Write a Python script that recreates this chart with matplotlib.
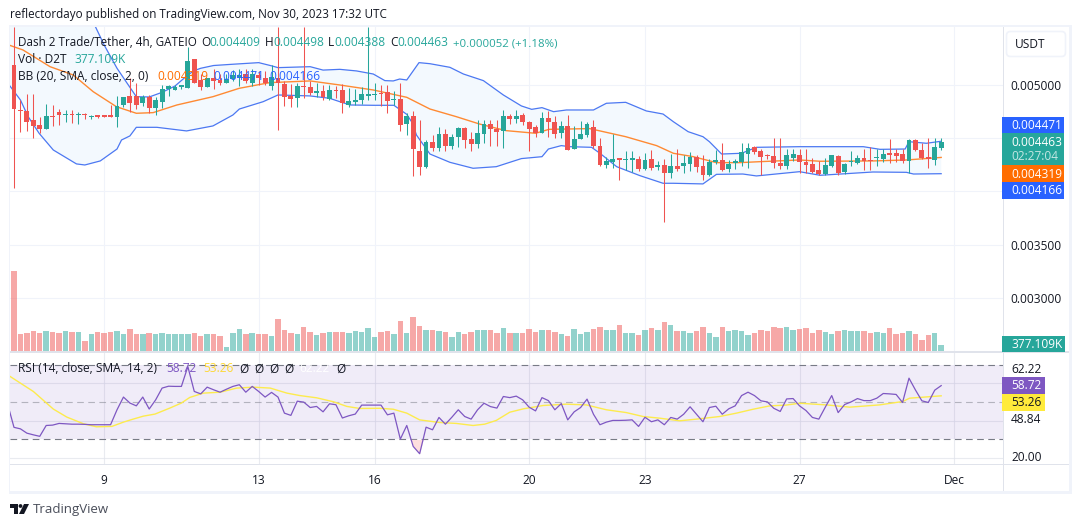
import matplotlib
matplotlib.use('Agg')
import matplotlib.pyplot as plt
from matplotlib.patches import Rectangle, Polygon, Circle, FancyBboxPatch
import numpy as np

plt.rcParams['font.family'] = ['Open Sans', 'DejaVu Sans']

# prices are in millionths of USDT, volume in thousands
opens = [5188, 4765, 4756, 4671, 4624, 4586, 4706, 4746, 4715, 4720,
         4714, 4720, 4700, 4706, 4706, 4706, 4699, 4809, 4893, 4893,
         4834, 4887, 4784, 4840, 4962, 4953, 4984, 4972, 5244, 5047,
         4978, 5063, 5047, 5022, 5053, 5072, 5103, 5022, 5094, 5066,
         4991, 5063, 5010, 4897, 4875, 4985, 4978, 4928, 4941, 4865,
         4953, 4953, 4812, 4843, 4859, 4900, 4903, 4928, 4931, 4859,
         4868, 4637, 4709, 4380, 4229, 4464, 4408, 4540, 4427, 4511,
         4596, 4492, 4449, 4540, 4633, 4586, 4571, 4709, 4680, 4715,
         4652, 4605, 4552, 4690, 4652, 4552, 4615, 4401, 4492, 4533,
         4605, 4427, 4248, 4276, 4304, 4292, 4298, 4304, 4210, 4304,
         4232, 4248, 4173, 4235, 4242, 4254, 4320, 4239, 4154, 4276,
         4295, 4207, 4264, 4279, 4348, 4414, 4380, 4336, 4333, 4264,
         4242, 4311, 4342, 4276, 4257, 4201, 4163, 4242, 4333, 4179,
         4273, 4270, 4311, 4292, 4311, 4308, 4348, 4358, 4351, 4286,
         4483, 4389, 4311, 4295, 4409]
closes = [4778, 4755, 4655, 4615, 4586, 4709, 4700, 4721, 4720, 4714,
          4720, 4716, 4706, 4702, 4702, 4702, 4803, 4887, 4831, 4809,
          4890, 4781, 4859, 4962, 4994, 4984, 4994, 5226, 5016, 4978,
          5063, 5038, 5022, 5053, 5091, 5091, 5038, 5103, 5063, 5016,
          5072, 5022, 4890, 4868, 4991, 4980, 4928, 4941, 4890, 4953,
          4941, 4834, 4850, 4859, 4915, 4915, 4915, 4915, 4850, 4868,
          4624, 4709, 4398, 4229, 4464, 4408, 4540, 4427, 4511, 4599,
          4483, 4445, 4549, 4633, 4586, 4561, 4709, 4684, 4709, 4655,
          4586, 4546, 4690, 4652, 4543, 4615, 4392, 4492, 4540, 4633,
          4427, 4248, 4286, 4304, 4298, 4298, 4304, 4210, 4295, 4223,
          4248, 4176, 4235, 4210, 4264, 4320, 4232, 4154, 4279, 4292,
          4201, 4257, 4286, 4373, 4405, 4373, 4326, 4330, 4270, 4242,
          4342, 4351, 4279, 4251, 4185, 4163, 4248, 4342, 4176, 4257,
          4276, 4311, 4286, 4286, 4314, 4351, 4344, 4336, 4286, 4483,
          4389, 4311, 4308, 4414, 4463]
highs = [5548, 4859, 4915, 4915, 4702, 4821, 4812, 4774, 4765, 4765,
         4750, 4740, 4718, 4718, 4712, 4812, 4898, 4890, 5070, 5016,
         4905, 4905, 4890, 5000, 5000, 5000, 5003, 5357, 5244, 5100,
         5063, 5150, 5100, 5100, 5140, 5150, 5150, 5150, 5130, 5135,
         5190, 5548, 5040, 5010, 5016, 5548, 5040, 5016, 5000, 5000,
         4995, 5007, 4975, 4965, 4985, 5548, 5020, 5000, 4997, 4940,
         5020, 4737, 4755, 4670, 4480, 4530, 4605, 4585, 4535, 4605,
         4605, 4555, 4670, 4670, 4670, 4670, 4765, 4730, 4765, 4740,
         4660, 4620, 4745, 4760, 4710, 4660, 4718, 4612, 4665, 4650,
         4670, 4500, 4320, 4542, 4312, 4380, 4380, 4330, 4360, 4390,
         4285, 4305, 4350, 4400, 4340, 4370, 4340, 4340, 4300, 4389,
         4458, 4295, 4300, 4458, 4458, 4430, 4400, 4355, 4500, 4500,
         4395, 4395, 4395, 4395, 4310, 4290, 4310, 4345, 4345, 4265,
         4378, 4345, 4395, 4420, 4395, 4395, 4490, 4395, 4395, 4490,
         4490, 4450, 4500, 4500, 4498]
lows = [4029, 4561, 4568, 4505, 4546, 4586, 4615, 4627, 4655, 4640,
        4634, 4684, 4677, 4693, 4696, 4700, 4601, 4797, 4750, 4778,
        4800, 4740, 4722, 4787, 4900, 4953, 4962, 4972, 5016, 4953,
        4978, 4962, 5000, 5022, 5040, 4990, 5016, 4990, 5000, 5000,
        4950, 4577, 4800, 4795, 4795, 4875, 4905, 4890, 4860, 4858,
        4880, 4737, 4797, 4812, 4822, 4862, 4860, 4798, 4740, 4810,
        4570, 4533, 4145, 4155, 4220, 4380, 4380, 4380, 4400, 4418,
        4410, 4380, 4405, 4455, 4430, 4430, 4408, 4633, 4640, 4620,
        4380, 4515, 4545, 4510, 4505, 4505, 4392, 4401, 4492, 4515,
        4405, 4240, 4215, 4222, 4108, 4200, 4180, 4190, 4200, 4205,
        4200, 3712, 4130, 4190, 4170, 4190, 4180, 4110, 4140, 4260,
        4192, 4180, 4210, 4240, 4223, 4355, 4150, 4300, 4215, 4210,
        4210, 4290, 4175, 4175, 4170, 4150, 4150, 4225, 4155, 4160,
        4240, 4255, 4200, 4200, 4240, 4280, 4270, 4280, 4270, 4170,
        4380, 4300, 4220, 4250, 4388]
volumes = [4374, 972, 1026, 1134, 1026, 1134, 1080, 1026, 1134, 1080,
           1080, 594, 972, 1080, 1026, 1080, 1134, 972, 1242, 972,
           972, 1026, 972, 1026, 972, 972, 972, 972, 1026, 864,
           972, 972, 864, 270, 1026, 1242, 972, 1026, 972, 972,
           864, 1782, 1188, 1026, 972, 1350, 1080, 918, 1026, 1080,
           1080, 1080, 1026, 1134, 1098, 1314, 828, 1098, 1152, 990,
           1692, 1044, 1908, 1422, 1206, 1206, 1152, 1098, 828, 1098,
           990, 1098, 1206, 1206, 1206, 1044, 1314, 1044, 1044, 1044,
           1260, 1098, 1206, 1206, 1098, 990, 882, 1260, 990, 1098,
           1260, 1368, 1206, 1206, 1476, 1044, 1044, 936, 1206, 1314,
           1206, 1638, 1476, 1152, 1152, 1044, 1152, 1368, 1044, 828,
           1368, 1152, 1206, 1152, 936, 1044, 1206, 1152, 1368, 1314,
           1368, 1206, 1260, 1314, 1044, 1206, 1098, 990, 1152, 1206,
           1152, 1152, 1152, 1044, 1098, 1044, 1314, 990, 1044, 1152,
           990, 666, 936, 1044, 377]

upper_idx = [-1, 6, 12, 14, 16, 18, 19, 21, 23, 25, 27, 28, 29, 31, 34, 38, 40, 41, 46, 48,
             50.6, 53.2, 55.8, 57.6, 58.9, 59.9, 61, 62.9, 64.6, 67.7, 69.8, 72.9, 76, 78.8,
             80.4, 82, 83.8, 85.8, 90, 92, 95, 98.2, 100.8, 102.4, 104.7, 107, 108, 109.9,
             113, 115.3, 122, 131.9, 134.5, 138.4, 139, 141.7, 144]
upper = [6200, 5900, 5630, 5376, 5157, 4978, 4890, 4887, 4931, 4990, 5094, 5135, 5157, 5183, 5195, 5210, 5180, 5163, 5172, 5140,
         5147, 5132, 5103, 5041, 5038, 5056, 5047, 5210, 5200, 5166, 5103, 5041, 4906, 4803,
         4771, 4787, 4749, 4765, 4765, 4828, 4837, 4756, 4727, 4655, 4561, 4514, 4467, 4351,
         4358, 4414, 4420, 4420, 4395, 4398, 4467, 4452, 4471]
lower_idx = [-1, 1, 2.2, 3.9, 6.1, 9.7, 11, 13.4, 16, 16.7, 18, 19, 22.2, 26.8, 30.9, 34, 35, 38.7, 41, 46, 49,
             50.6, 52.2, 55.8, 59, 61, 61.9, 62.5, 64.6, 67.7, 71.3, 74.9, 78.8, 82, 83, 85, 86.3, 89.7, 91, 93.6, 97.2,
             100.8, 102.4, 107, 109.1, 113.2, 115.3, 122, 125.2, 133.4, 138.6, 139.7, 144]
lower = [5020, 4859, 4702, 4546, 4389, 4258, 4248, 4286, 4398, 4483, 4521, 4602, 4602, 4568, 4615, 4718, 4774, 4843, 4906, 4897, 4875,
         4843, 4812, 4809, 4809, 4724, 4640, 4530, 4351, 4273, 4217, 4232, 4308, 4326, 4398, 4430, 4420, 4414, 4358, 4232, 4148,
         4076, 4076, 4070, 4160, 4163, 4145, 4185, 4151, 4182, 4179, 4163, 4166]
basis_idx = [-1, 1.4, 5.6, 9.2, 12.3, 15.9, 19, 21.6, 25.3, 30.9, 35, 39.7, 46, 50.6,
             55.8, 61, 64.6, 68.7, 72.3, 76.4, 81, 83.1, 89.4, 95, 99.8, 102.4, 105.5,
             109.1, 112.7, 115.8, 122, 125.2, 133.4, 138.6, 144]
basis = [5380, 5329, 5172, 5094, 4937, 4796, 4734, 4740, 4812, 4890, 4969, 5022, 5038, 5000,
         4953, 4884, 4774, 4702, 4633, 4571, 4546, 4583, 4590, 4514, 4430, 4358, 4326,
         4270, 4270, 4279, 4295, 4283, 4286, 4295, 4319]

# rsi starts one bar before the first visible candle
rsi = [49.0, 36.4, 35.6, 33.3, 32.4, 31.6, 37.4, 37.6, 38.5, 38.3, 38.1,
       38.1, 38.0, 37.8, 37.8, 37.8, 37.8, 45.8, 52.6, 49.4, 47.9,
       52.6, 46.2, 51.1, 57.4, 58.4, 58.3, 58.3, 68.9, 55.6, 54.3,
       57.9, 56.5, 55.2, 56.8, 58.3, 59.2, 55.2, 58.3, 55.6, 52.6,
       55.1, 52.6, 44.0, 42.8, 50.4, 49.9, 47.0, 47.6, 44.7, 49.0,
       48.5, 41.4, 42.6, 43.5,
       48.3, 48.3, 48.3, 48.3, 43.1, 44.0, 30.1, 37.4, 26.2, 22.3,
       36.5, 35.1, 41.7, 38.1, 41.8, 45.8, 42.2, 40.8, 45.8, 49.3,
       47.5, 46.7, 52.9, 52.3, 53.1, 51.1, 47.2, 45.2, 52.3, 50.7,
       45.8, 49.1, 40.4, 44.7, 47.0, 51.5, 43.4, 37.8, 39.2, 40.1,
       40.1, 40.2, 40.4, 36.9, 41.8, 39.4, 40.4, 37.8, 41.7, 40.8,
       43.4, 47.4, 43.4, 39.4, 47.0, 47.7,
       43.4, 46.3, 47.9, 53.4, 55.2, 53.4, 50.6, 50.0, 46.6, 44.9,
       51.6, 51.8, 47.9, 45.4, 41.7, 40.8, 47.2, 53.4, 44.3, 48.6,
       50.0, 51.8, 50.7, 50.7, 52.0, 54.5, 54.3, 54.0, 49.7, 62.7,
       56.4, 50.6, 49.7, 56.3, 58.72]
rsi_ma_idx = [-1, 3, 6.1, 8.2, 10.8, 12.8, 15.2, 17, 18.5, 20.1, 21.9, 24.2, 26, 27.3, 29.4, 32, 34.6, 37.2, 39.8,
              42.4, 44.4, 47, 49.6, 51.7, 53.7, 56.8, 58.9, 61, 63, 66.1, 68.7, 71.3, 73.1, 74.9, 77, 79.1,
              82.2, 85.8, 88.9, 92, 95.1, 97.7, 100.3, 103.4, 106, 109.6, 112.2, 114.8, 117.4, 119.9, 122,
              126.2, 129.8, 134.4, 138, 139.1, 144]
rsi_ma = [64.5, 55.6, 46.2, 41.9, 38.3, 36.7, 36.9, 39.2, 40.8, 42.4, 43.5, 46.7, 49.4, 52.4, 54.7, 55.2, 57.4, 57.9, 57.4,
          54.7, 53.4, 52.2, 50.1, 47.6, 46.5, 46.6, 46.1, 44.0, 40.4, 39.0, 38.5, 37.4, 38.1, 40.1, 44.5, 46.3,
          48.1, 48.8, 48.4, 45.8, 44.3, 42.2, 41.3, 39.9, 40.8, 42.2, 44.0, 46.1, 47.9, 48.3, 49.3,
          48.4, 47.2, 48.4, 50.2, 52.0, 53.26]

price_ticks = [0.0030, 0.0035, 0.0040, 0.0045, 0.0050]
price_tick_labels = ['0.003000', '0.003500', '', '', '0.005000']
rsi_ticks = [20, 40, 60]
date_ticks = [14, 38, 56, 80, 98, 122, 146]
date_labels = ['9', '13', '16', '20', '23', '27', 'Dec']

UP = '#26a69a'
DOWN = '#ef5350'
GRID = '#f0f3fa'
LINE = '#e0e3eb'
INK = '#131722'
FW, FH = 1080, 527


def px_rect(x0, y0, x1, y1):
    return [x0 / FW, 1 - y1 / FH, (x1 - x0) / FW, (y1 - y0) / FH]


fig = plt.figure(figsize=(FW / 100, FH / 100), dpi=100)
fig.patch.set_facecolor('white')

XLIM = (-0.62, 153.6)
idx = np.arange(len(opens))
o = np.array(opens) / 1e6
c = np.array(closes) / 1e6
h = np.array(highs) / 1e6
l = np.array(lows) / 1e6
up_bar = c >= o
colors = np.where(up_bar, UP, DOWN)

# price panel
ax = fig.add_axes(px_rect(10, 27, 1003, 352))
ax.set_xlim(*XLIM)
ax.set_ylim(0.00249, 0.005545)
ax.set_xticks(date_ticks)
ax.set_xticklabels([])
ax.set_yticks(price_ticks)
ax.set_yticklabels(price_tick_labels, fontsize=8.6, color=INK)
ax.yaxis.tick_right()
ax.tick_params(length=0, pad=5)
ax.grid(True, color=GRID, linewidth=0.8)
ax.set_axisbelow(True)
for s in ax.spines.values():
    s.set_visible(False)

band_x = np.r_[upper_idx, lower_idx[::-1]]
band_y = np.r_[upper, lower[::-1]] / 1e6
ax.fill(band_x, band_y, color='#f3f9fe', zorder=1, linewidth=0)
ax.plot(upper_idx, np.array(upper) / 1e6, color='#4c78f2', lw=0.9, zorder=2)
ax.plot(lower_idx, np.array(lower) / 1e6, color='#4c78f2', lw=0.9, zorder=2)
ax.plot(basis_idx, np.array(basis) / 1e6, color='#ff8a33', lw=1, zorder=2)
ax.vlines(idx, l, h, colors=colors, lw=0.75, zorder=3)
# dojis still need a visible body
body = np.maximum(np.abs(c - o), 0.000012)
ax.bar(idx, body, bottom=np.minimum(o, c), width=0.75, color=colors, linewidth=0, zorder=4)

# volume overlay
ax_vol = fig.add_axes(px_rect(10, 270, 1003, 352))
ax_vol.patch.set_alpha(0)
ax_vol.set_xlim(*XLIM)
ax_vol.set_ylim(0, 4428)
ax_vol.axis('off')
ax_vol.bar(idx, volumes, width=0.85, color=colors, alpha=0.5, linewidth=0)

# rsi panel
ax_rsi = fig.add_axes(px_rect(10, 352, 1003, 464))
ax_rsi.set_xlim(*XLIM)
ax_rsi.set_ylim(16.8, 76.7)
ax_rsi.set_xticks(date_ticks)
ax_rsi.set_xticklabels(date_labels, fontsize=8.6, color=INK)
ax_rsi.set_yticks(rsi_ticks)
ax_rsi.set_yticklabels([])
ax_rsi.tick_params(length=0, pad=7)
ax_rsi.grid(True, color=LINE, linewidth=0.8, alpha=0.7)
ax_rsi.set_axisbelow(True)
for s in ax_rsi.spines.values():
    s.set_visible(False)
rsi_x = np.arange(-1, len(opens))
rsi_y = np.array(rsi)
ax_rsi.axhspan(30, 70, color='#7e57c2', alpha=0.11, linewidth=0, zorder=1)
ax_rsi.axhline(70, color='#787b86', lw=0.8, dashes=(6, 4), zorder=2)
ax_rsi.axhline(50, color='#787b86', lw=0.8, dashes=(6, 4), alpha=0.5, zorder=2)
ax_rsi.axhline(30, color='#787b86', lw=0.8, dashes=(6, 4), zorder=2)
ax_rsi.fill_between(rsi_x, rsi_y, 30, where=rsi_y < 30, interpolate=True, color='#fddede', linewidth=0, zorder=2)
ax_rsi.plot(rsi_ma_idx, rsi_ma, color='#fdeb4d', lw=1, zorder=3)
ax_rsi.plot(rsi_x, rsi_y, color='#7e57c2', lw=0.9, zorder=4)

# overlay in pixels for the tradingview chrome, labels and the legend
ov = fig.add_axes([0, 0, 1, 1], zorder=10)
ov.set_xlim(0, FW)
ov.set_ylim(FH, 0)
ov.axis('off')
ov.patch.set_alpha(0)


def box(x0, y0, x1, y1, color, **kw):
    ov.add_patch(Rectangle((x0, y0), x1 - x0, y1 - y0, facecolor=color, edgecolor='none', **kw))


def text(x, y, s, color=INK, size=8.6, ha='left', **kw):
    # y is the middle of the digits, baseline keeps rows level
    ov.text(x, y + 4.3, s, color=color, fontsize=size, ha=ha, va='baseline', **kw)


# frame
box(9, 25, 1072, 27, GRID)
box(9, 25, 10, 494, GRID)
box(9, 491, 1072, 494, GRID)
box(1069, 25, 1072, 494, GRID)
box(10, 351, 1069, 353, LINE)
box(10, 464, 1069, 465, LINE)
box(1003, 27, 1004, 491, LINE)

text(10, 14, 'reflectordayo published on TradingView.com, Nov 30, 2023 17:32 UTC', size=8.35)

# legend rows
text(18, 42, 'Dash 2 Trade/Tether, 4h, GATEIO', size=8.35)
for x, s in [(201, 'O'), (265, 'H'), (328, 'L'), (390, 'C')]:
    text(x, 42, s)
for x, s in [(209, '0.004409'), (273, '0.004498'), (334, '0.004388'), (397, '0.004463')]:
    text(x, 42, s, color=UP)
text(453, 42, '+0.000052 (+1.18%)', color=UP, size=8.2)
text(18, 59, 'Vol · D2T')
text(74, 59, '377.109K', color=UP)
text(18, 76, 'BB (20, SMA, close, 2, 0)')
text(157, 76, '0.004319', color='#ff6d00')
text(213, 76, '0.004471', color='#2962ff')
text(269, 76, '0.004166', color='#2962ff')
text(18, 368, 'RSI (14, close, SMA, 14, 2)')
text(166, 368, '58.72', color='#7e57c2')
text(203, 368, '53.26', color='#fdd835')
for x in [244, 259, 274, 289, 341]:
    text(x, 368, 'Ø', ha='center')
text(315, 368, '62.22', color='white', ha='center')

# price scale labels
ov.add_patch(FancyBboxPatch((1008, 33), 56, 22, boxstyle='round,pad=1.5,rounding_size=4',
                            facecolor='white', edgecolor=GRID, lw=1.2))
text(1015, 44, 'USDT')
box(1002, 117, 1064, 133, '#2962ff')
text(1011, 125, '0.004471', color='white')
box(1002, 133, 1064, 165, UP)
text(1011, 142, '0.004463', color='white')
text(1011, 156, '02:27:04', color='#c4e7e3')
box(1002, 165, 1064, 182, '#ff6d00')
text(1011, 174, '0.004319', color='white')
box(1002, 182, 1064, 199, '#2962ff')
text(1011, 190, '0.004166', color='white')
box(1002, 336, 1065, 352, UP)
text(1011, 344, '377.109K', color='white')

# rsi scale labels
box(1004, 361, 1045, 377, 'white')
text(1011, 369, '62.22')
box(1002, 377, 1045, 394, '#7e57c2')
text(1011, 385, '58.72', color='white')
box(1002, 394, 1045, 411, '#ffeb3b')
text(1011, 402, '53.26')
box(1004, 411, 1045, 428, 'white')
text(1011, 419, '48.84')
text(1011, 457, '20.00')

# logo
ov.add_patch(Polygon([(10, 504), (18, 504), (18, 514), (14, 514), (14, 508), (10, 508)], facecolor=INK, edgecolor='none'))
ov.add_patch(Circle((20.5, 506), 1.9, facecolor=INK, edgecolor='none'))
ov.add_patch(Polygon([(24, 504), (29, 504), (24, 514), (19, 514)], facecolor=INK, edgecolor='none'))
text(33, 509, 'TradingView', color='#4a4e5a', size=9.5)

fig.savefig('out.png', dpi=100)
